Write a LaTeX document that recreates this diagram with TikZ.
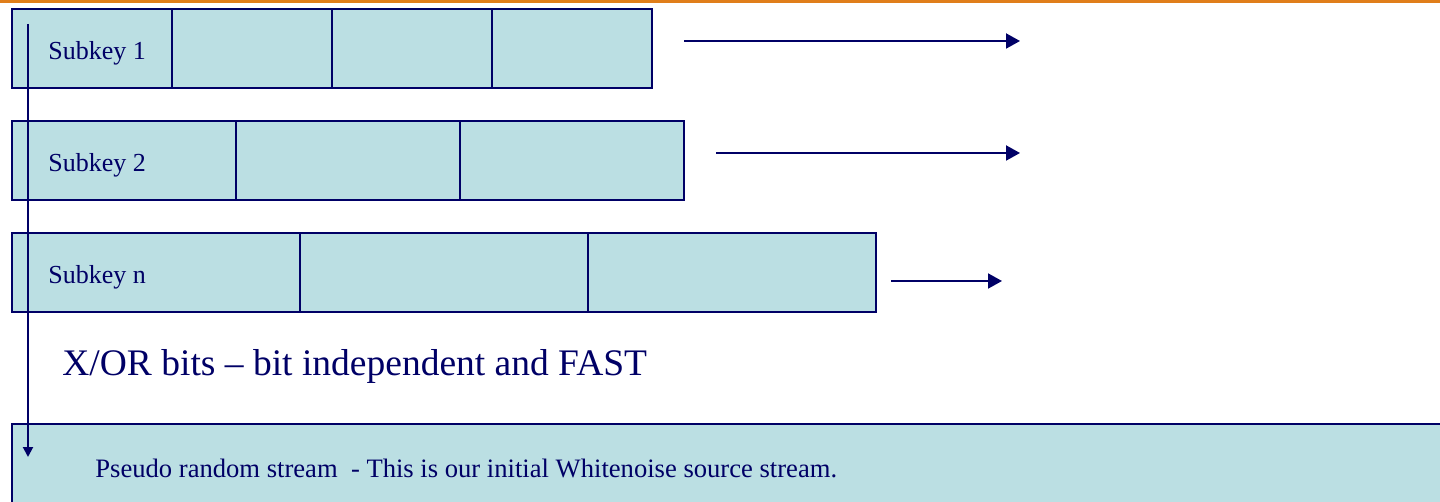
\documentclass[tikz,border=0pt]{standalone}
\usepackage{fontspec}
\setmainfont{Liberation Serif}
\usepackage{tikz}
\usetikzlibrary{positioning}
\usetikzlibrary{arrows.meta}
\definecolor{navy}{HTML}{000066}
\definecolor{keyfill}{HTML}{BBDFE3}
\definecolor{topline}{HTML}{E07E1A}
\tikzset{cell/.style={draw=navy, fill=keyfill, line width=1pt, minimum height=39.5pt, inner sep=0pt, outer sep=0pt, anchor=north west}}
\tikzset{keytext/.style={text=navy, inner sep=0pt, anchor=base west, font=\fontsize{13}{15}\selectfont}}
\tikzset{flow/.style={draw=navy, line width=1pt, -{Triangle[length=7pt,width=7.5pt]}}}

\begin{document}
\begin{tikzpicture}[x=0.5pt,y=-0.5pt]
\useasboundingbox (0,0) rectangle (1440,502);
\clip (0,0) rectangle (1440,502);
\fill[topline] (0,0) rectangle (1440,3.5);
% subkey rows
\foreach \i in {0,...,3} {
\node[cell, minimum width=80pt] (a\i) at ({12+160*\i},9) {};
}
\foreach \i in {0,...,2} {
\node[cell, minimum width=112pt] (b\i) at ({12+224*\i},121) {};
}
\foreach \i in {0,...,2} {
\node[cell, minimum width=144pt] (c\i) at ({12+288*\i},233) {};
}
\node[keytext] (k1) at (48,60) {Subkey 1};
\node[keytext] (k2) at (48,172) {Subkey 2};
\node[keytext] (kn) at (48,284) {Subkey n};
% outputs
\coordinate (s1) at (684,41);
\coordinate (e1) at (1020,41);
\coordinate (s2) at (716,153);
\coordinate (e2) at (1020,153);
\coordinate (sn) at (891,281);
\coordinate (en) at (1002,281);
\draw[flow] (s1) -- (e1);
\draw[flow] (s2) -- (e2);
\draw[flow] (sn) -- (en);
\node[keytext, font=\fontsize{18.75}{22}\selectfont] (xor) at (62,375) {X/OR bits – bit independent and FAST};
% stream
\node[cell, minimum width=725pt, minimum height=45pt] (stream) at (12,424) {};
\node[keytext, font=\fontsize{13.3}{15}\selectfont] (streamtext) at (95,477) {Pseudo random stream\ \ - This is our initial Whitenoise source stream.};
\coordinate (src) at (28,24);
\coordinate (sink) at (28,457);
\draw[flow, -{Triangle[length=5pt,width=5pt]}] (src) -- (sink);
\end{tikzpicture}
\end{document}
